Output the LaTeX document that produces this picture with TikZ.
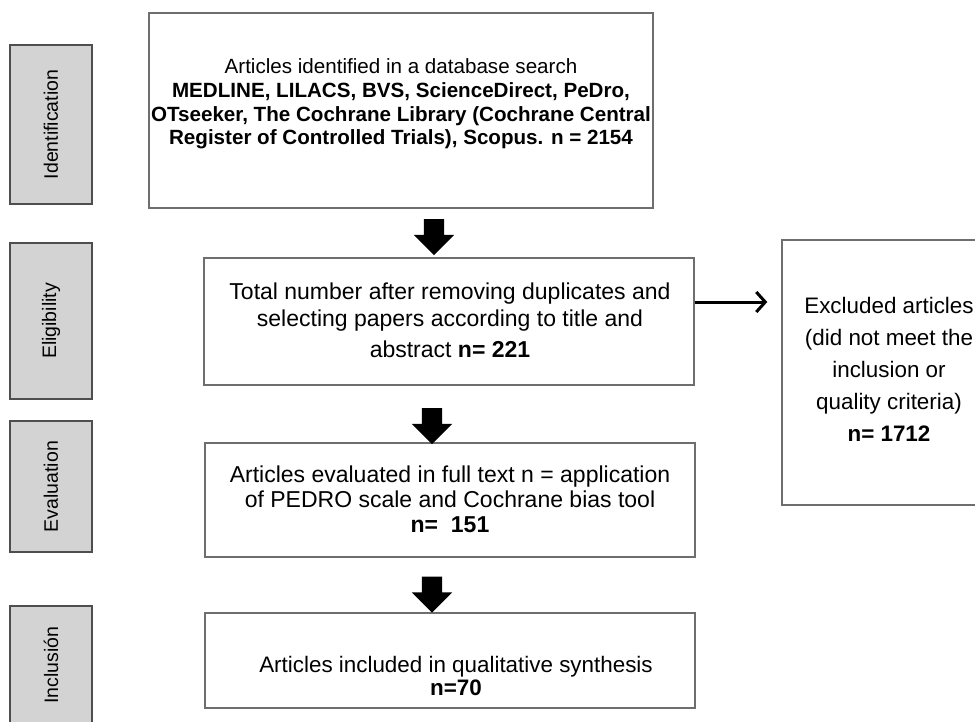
\documentclass[tikz,border=0pt]{standalone}
\usepackage{fontspec}
\setmainfont{Liberation Sans}
\usetikzlibrary{shapes.arrows,arrows.meta}
\definecolor{sidefill}{HTML}{D3D3D3}
\definecolor{sidedraw}{HTML}{4E4E4E}
\definecolor{boxdraw}{HTML}{6E6E6E}
\begin{document}
\begin{tikzpicture}[x=1pt,y=-1pt,
  sidebox/.style={draw=sidedraw,fill=sidefill,line width=1.4pt,inner sep=0pt,
    minimum width=82pt},
  sidelabel/.style={rotate=90,font=\fontsize{19.5}{22}\selectfont,inner sep=0pt},
  mainbox/.style={draw=boxdraw,line width=1.4pt,inner sep=0pt},
  boxtext/.style={align=center,inner sep=0pt},
  blockarrow/.style={single arrow,fill=black,draw=none,rotate=-90,
    minimum height=36pt,inner xsep=0pt,inner ysep=10pt,
    single arrow head extend=10pt,single arrow head indent=0pt},
  exarrow/.style={line width=3pt,-{Straight Barb[length=9pt,width=20pt]}}
]
\useasboundingbox (0,0) rectangle (975,721);
\clip (0,0) rectangle (975,721);
% side stage boxes
\node[sidebox,minimum height=159pt] (sid) at (51,124.5) {};
\node[sidelabel] (lid) at (sid.center) {Identification};
\node[sidebox,minimum height=156pt] (sel) at (51,321) {};
\node[sidelabel] (lel) at (sel.center) {Eligibility};
\node[sidebox,minimum height=131pt] (sev) at (51,486.5) {};
\node[sidelabel] (lev) at (sev.center) {Evaluation};
\node[sidebox,minimum height=118pt] (sin) at (51,665) {};
\node[sidelabel] (lin) at (sin.center) {Inclusión};
% main boxes
\node[mainbox,minimum width=504pt,minimum height=195pt] (b1) at (401,110.5) {};
\node[boxtext,font=\fontsize{20.6}{23.8}\selectfont] (t1) at (401,104)
  {Articles identified in a database search\\
   \textbf{MEDLINE, LILACS, BVS, ScienceDirect, PeDro,}\\
   \textbf{OTseeker, The Cochrane Library (Cochrane Central}\\
   \textbf{Register of Controlled Trials), Scopus. n = 2154}};
\node[mainbox,minimum width=490pt,minimum height=127pt] (b2) at (449,321.5) {};
\node[boxtext,font=\fontsize{23}{27}\selectfont] (t2) at (450,320)
  {Total number after removing duplicates and\\
   selecting papers according to title and\\[4pt]
   abstract \textbf{n= 221}};
\node[mainbox,minimum width=490pt,minimum height=114pt] (b3) at (450,500) {};
\node[boxtext,font=\fontsize{23}{25}\selectfont] (t3) at (450,499)
  {Articles evaluated in full text n = application\\
   of PEDRO scale and Cochrane bias tool\\
   \textbf{n=~~151}};
\node[mainbox,minimum width=490pt,minimum height=95pt] (b4) at (450,660.5) {};
\node[boxtext,font=\fontsize{22.4}{23}\selectfont] (t4) at (456,675.5)
  {Articles included in qualitative synthesis\\
   \textbf{n=70}};
% excluded box
\node[mainbox,minimum width=208pt,minimum height=265pt] (rb) at (886,372.5) {};
\node[boxtext,font=\fontsize{22.4}{32}\selectfont] (t5) at (889,369)
  {Excluded articles\\
   (did not meet the\\
   inclusion or\\
   quality criteria)\\
   \textbf{n= 1712}};
% block arrows
\node[blockarrow] (a1) at (434,232) {};
\node[blockarrow] (a2) at (432,421) {};
\node[blockarrow] (a3) at (432,589.5) {};
% exclusion arrow
\coordinate (ey) at (0,302);
\draw[exarrow,shorten >=14pt] (b2.east |- ey) -- (rb.west |- ey);
\end{tikzpicture}
\end{document}
